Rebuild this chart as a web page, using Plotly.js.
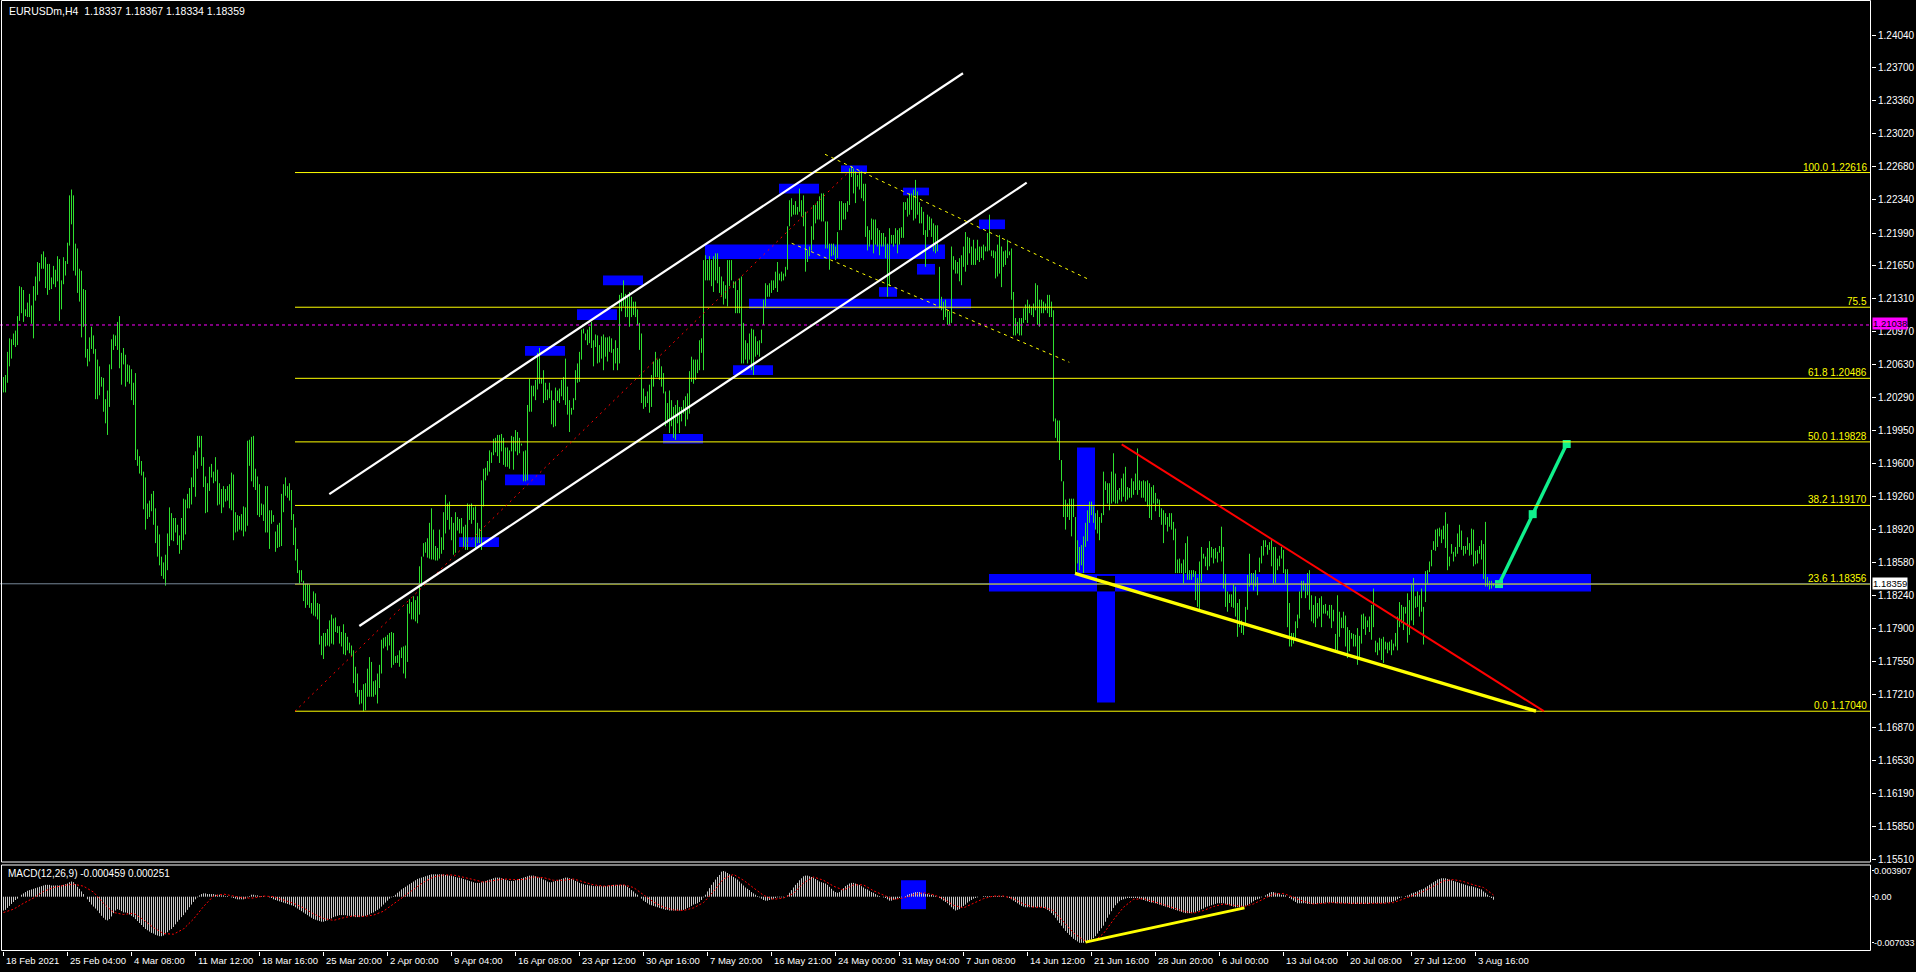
<!DOCTYPE html>
<html>
<head>
<meta charset="utf-8">
<script src="https://cdn.plot.ly/plotly-3.0.1.min.js"></script>
<style>
html,body{margin:0;padding:0;background:#000;overflow:hidden}
#chart{width:1916px;height:972px}
</style>
</head>
<body>
<div id="chart"></div>
<script>
// ---- EURUSDm H4 quotes (bar 0 = 18 Feb 2021 00:00) ----
const symbolName = 'EURUSDm,H4';
const lastQuote = [1.18337, 1.18367, 1.18334, 1.18359]; // open, high, low, close of the live bar

const barHigh = [
1.2050,1.2052,1.2076,1.2090,1.2089,1.2095,1.2098,1.2113,1.2144,1.2143,
1.2140,1.2120,1.2127,1.2136,1.2124,1.2144,1.2154,1.2169,1.2168,1.2177,
1.2180,1.2174,1.2167,1.2167,1.2153,1.2165,1.2161,1.2175,1.2172,1.2150,
1.2174,1.2170,1.2189,1.2238,1.2244,1.2238,1.2188,1.2183,1.2162,1.2160,
1.2141,1.2140,1.2079,1.2091,1.2102,1.2093,1.2079,1.2068,1.2061,1.2050,
1.2049,1.2027,1.2036,1.2063,1.2089,1.2094,1.2093,1.2107,1.2113,1.2075,
1.2080,1.2073,1.2063,1.2062,1.2058,1.2044,1.2054,1.1975,1.1968,1.1963,
1.1952,1.1946,1.1919,1.1922,1.1929,1.1932,1.1914,1.1896,1.1887,1.1864,
1.1858,1.1866,1.1888,1.1915,1.1909,1.1904,1.1904,1.1897,1.1886,1.1904,
1.1924,1.1923,1.1929,1.1935,1.1946,1.1969,1.1973,1.1989,1.1989,1.1989,
1.1967,1.1947,1.1940,1.1957,1.1960,1.1952,1.1967,1.1954,1.1940,1.1934,
1.1937,1.1934,1.1937,1.1939,1.1951,1.1949,1.1910,1.1907,1.1906,1.1908,
1.1916,1.1915,1.1984,1.1985,1.1988,1.1989,1.1955,1.1947,1.1939,1.1919,
1.1918,1.1937,1.1937,1.1912,1.1912,1.1907,1.1890,1.1897,1.1899,1.1929,
1.1939,1.1946,1.1937,1.1940,1.1933,1.1908,1.1894,1.1872,1.1850,1.1850,
1.1839,1.1836,1.1836,1.1835,1.1816,1.1828,1.1826,1.1816,1.1815,1.1782,
1.1785,1.1785,1.1789,1.1798,1.1804,1.1800,1.1801,1.1792,1.1792,1.1786,
1.1794,1.1785,1.1781,1.1775,1.1772,1.1767,1.1750,1.1743,1.1726,1.1726,
1.1732,1.1733,1.1748,1.1760,1.1755,1.1735,1.1736,1.1743,1.1752,1.1778,
1.1780,1.1781,1.1783,1.1785,1.1786,1.1785,1.1761,1.1762,1.1767,1.1770,
1.1771,1.1772,1.1815,1.1820,1.1817,1.1823,1.1819,1.1823,1.1854,1.1864,
1.1878,1.1879,1.1883,1.1899,1.1914,1.1892,1.1875,1.1873,1.1892,1.1884,
1.1910,1.1928,1.1919,1.1921,1.1905,1.1899,1.1910,1.1905,1.1903,1.1904,
1.1895,1.1897,1.1919,1.1918,1.1919,1.1915,1.1916,1.1899,1.1893,1.1943,
1.1955,1.1956,1.1963,1.1974,1.1972,1.1986,1.1987,1.1990,1.1990,1.1991,
1.1987,1.1977,1.1977,1.1974,1.1989,1.1988,1.1995,1.1993,1.1987,1.1981,
1.1973,1.1974,1.2021,1.2048,1.2041,1.2041,1.2047,1.2075,1.2080,1.2049,
1.2057,1.2044,1.2037,1.2044,1.2036,1.2026,1.2039,1.2036,1.2038,1.2047,
1.2050,1.2069,1.2040,1.2026,1.2018,1.2028,1.2057,1.2064,1.2076,1.2099,
1.2100,1.2095,1.2099,1.2102,1.2107,1.2088,1.2094,1.2093,1.2083,1.2092,
1.2094,1.2091,1.2091,1.2092,1.2090,1.2079,1.2088,1.2080,1.2135,1.2137,
1.2150,1.2136,1.2133,1.2138,1.2133,1.2128,1.2128,1.2120,1.2106,1.2095,
1.2038,1.2030,1.2035,1.2042,1.2052,1.2066,1.2076,1.2068,1.2069,1.2061,
1.2054,1.2035,1.2023,1.2036,1.2026,1.2019,1.2021,1.2026,1.2019,1.2019,
1.2026,1.2030,1.2033,1.2056,1.2071,1.2068,1.2068,1.2068,1.2088,1.2090,
1.2171,1.2176,1.2171,1.2175,1.2171,1.2175,1.2178,1.2178,1.2164,1.2154,
1.2149,1.2145,1.2171,1.2171,1.2171,1.2149,1.2149,1.2140,1.2152,1.2154,
1.2106,1.2088,1.2085,1.2095,1.2100,1.2099,1.2092,1.2087,1.2088,1.2099,
1.2130,1.2147,1.2145,1.2147,1.2150,1.2150,1.2159,1.2169,1.2157,1.2159,
1.2157,1.2164,1.2206,1.2233,1.2235,1.2228,1.2232,1.2226,1.2245,1.2233,
1.2238,1.2221,1.2181,1.2185,1.2206,1.2228,1.2228,1.2232,1.2237,1.2240,
1.2240,1.2211,1.2211,1.2188,1.2188,1.2188,1.2185,1.2200,1.2232,1.2232,
1.2230,1.2230,1.2232,1.2266,1.2268,1.2266,1.2263,1.2259,1.2263,1.2263,
1.2250,1.2250,1.2206,1.2202,1.2214,1.2213,1.2213,1.2204,1.2202,1.2199,
1.2199,1.2195,1.2188,1.2204,1.2197,1.2197,1.2204,1.2202,1.2204,1.2205,
1.2231,1.2231,1.2235,1.2240,1.2240,1.2244,1.2254,1.2242,1.2231,1.2226,
1.2221,1.2202,1.2218,1.2216,1.2214,1.2209,1.2207,1.2207,1.2164,1.2133,
1.2128,1.2130,1.2119,1.2118,1.2185,1.2175,1.2171,1.2169,1.2173,1.2176,
1.2185,1.2200,1.2195,1.2194,1.2185,1.2192,1.2183,1.2192,1.2185,1.2185,
1.2187,1.2185,1.2199,1.2218,1.2181,1.2181,1.2180,1.2187,1.2197,1.2185,
1.2180,1.2181,1.2192,1.2180,1.2183,1.2138,1.2111,1.2107,1.2111,1.2111,
1.2121,1.2125,1.2130,1.2125,1.2123,1.2126,1.2147,1.2145,1.2130,1.2130,
1.2128,1.2126,1.2135,1.2135,1.2128,1.2119,1.2007,1.2005,1.2005,1.1964,
1.1942,1.1923,1.1919,1.1924,1.1924,1.1924,1.1905,1.1881,1.1874,1.1876,
1.1885,1.1899,1.1912,1.1921,1.1921,1.1916,1.1909,1.1912,1.1905,1.1909,
1.1952,1.1942,1.1940,1.1940,1.1952,1.1971,1.1950,1.1933,1.1935,1.1945,
1.1950,1.1957,1.1936,1.1935,1.1945,1.1942,1.1950,1.1976,1.1943,1.1942,
1.1943,1.1942,1.1943,1.1940,1.1936,1.1938,1.1930,1.1924,1.1923,1.1914,
1.1912,1.1909,1.1905,1.1909,1.1909,1.1900,1.1893,1.1861,1.1862,1.1857,
1.1861,1.1878,1.1885,1.1850,1.1850,1.1850,1.1849,1.1842,1.1859,1.1874,
1.1867,1.1864,1.1873,1.1880,1.1874,1.1872,1.1873,1.1869,1.1875,1.1895,
1.1874,1.1846,1.1828,1.1825,1.1825,1.1835,1.1833,1.1816,1.1820,1.1798,
1.1795,1.1812,1.1845,1.1867,1.1847,1.1847,1.1850,1.1843,1.1863,1.1875,
1.1881,1.1881,1.1876,1.1879,1.1881,1.1874,1.1874,1.1862,1.1865,1.1874,
1.1871,1.1851,1.1851,1.1816,1.1785,1.1785,1.1797,1.1804,1.1828,1.1839,
1.1839,1.1836,1.1847,1.1850,1.1824,1.1814,1.1823,1.1816,1.1821,1.1823,
1.1814,1.1815,1.1808,1.1814,1.1814,1.1809,1.1784,1.1824,1.1807,1.1801,
1.1807,1.1803,1.1791,1.1788,1.1785,1.1784,1.1783,1.1790,1.1782,1.1804,
1.1805,1.1802,1.1798,1.1802,1.1814,1.1831,1.1777,1.1775,1.1780,1.1779,
1.1781,1.1776,1.1775,1.1776,1.1778,1.1774,1.1785,1.1802,1.1817,1.1814,
1.1812,1.1812,1.1826,1.1819,1.1835,1.1842,1.1823,1.1828,1.1824,1.1831,
1.1812,1.1849,1.1850,1.1859,1.1871,1.1880,1.1892,1.1893,1.1894,1.1892,
1.1896,1.1910,1.1898,1.1864,1.1877,1.1869,1.1874,1.1888,1.1897,1.1891,
1.1875,1.1875,1.1884,1.1878,1.1893,1.1892,1.1870,1.1871,1.1875,1.1881,
1.1877,1.1900,1.1843,1.1839,1.1839,1.18367
];

const barLow = [
1.2034,1.2034,1.2044,1.2061,1.2069,1.2083,1.2081,1.2083,1.2108,1.2116,
1.2107,1.2113,1.2112,1.2112,1.2105,1.2090,1.2129,1.2135,1.2149,1.2162,
1.2162,1.2142,1.2135,1.2140,1.2141,1.2146,1.2143,1.2149,1.2108,1.2120,
1.2146,1.2155,1.2167,1.2186,1.2208,1.2160,1.2155,1.2137,1.2128,1.2091,
1.2102,1.2070,1.2061,1.2066,1.2079,1.2074,1.2027,1.2027,1.2031,1.2040,
1.2014,1.2002,1.1990,1.2019,1.2058,1.2078,1.2082,1.2078,1.2059,1.2042,
1.2063,1.2040,1.2045,1.2043,1.2026,1.2021,1.1964,1.1958,1.1950,1.1948,
1.1913,1.1892,1.1903,1.1905,1.1911,1.1897,1.1878,1.1864,1.1855,1.1844,
1.1841,1.1834,1.1850,1.1875,1.1881,1.1880,1.1889,1.1876,1.1867,1.1871,
1.1881,1.1887,1.1914,1.1914,1.1918,1.1936,1.1926,1.1955,1.1977,1.1958,
1.1936,1.1909,1.1910,1.1932,1.1946,1.1940,1.1942,1.1917,1.1918,1.1909,
1.1915,1.1921,1.1922,1.1914,1.1912,1.1881,1.1889,1.1890,1.1892,1.1891,
1.1885,1.1890,1.1896,1.1958,1.1942,1.1936,1.1933,1.1907,1.1905,1.1907,
1.1901,1.1889,1.1889,1.1872,1.1898,1.1900,1.1869,1.1873,1.1874,1.1875,
1.1910,1.1927,1.1925,1.1922,1.1902,1.1876,1.1860,1.1847,1.1836,1.1838,
1.1818,1.1811,1.1814,1.1811,1.1805,1.1803,1.1802,1.1799,1.1773,1.1762,
1.1758,1.1771,1.1772,1.1771,1.1774,1.1773,1.1786,1.1785,1.1774,1.1771,
1.1763,1.1762,1.1767,1.1764,1.1761,1.1733,1.1723,1.1719,1.1711,1.1712,
1.1704,1.1705,1.1719,1.1719,1.1719,1.1719,1.1721,1.1712,1.1728,1.1743,
1.1769,1.1771,1.1767,1.1772,1.1749,1.1752,1.1754,1.1754,1.1750,1.1759,
1.1743,1.1738,1.1755,1.1805,1.1799,1.1799,1.1797,1.1795,1.1804,1.1833,
1.1864,1.1868,1.1863,1.1862,1.1861,1.1861,1.1860,1.1860,1.1862,1.1867,
1.1871,1.1888,1.1902,1.1892,1.1881,1.1866,1.1868,1.1891,1.1888,1.1888,
1.1874,1.1871,1.1871,1.1902,1.1898,1.1902,1.1871,1.1878,1.1878,1.1871,
1.1916,1.1943,1.1948,1.1952,1.1961,1.1969,1.1972,1.1968,1.1961,1.1973,
1.1959,1.1957,1.1957,1.1955,1.1973,1.1954,1.1973,1.1969,1.1971,1.1979,
1.1942,1.1942,1.1943,1.2014,1.2014,1.2030,1.2026,1.2037,1.2043,1.2043,
1.2023,1.2026,1.2026,1.2028,1.2001,1.1998,1.1999,1.2025,1.2023,1.2030,
1.2026,1.2021,1.2011,1.1993,1.2011,1.2016,1.2026,1.2044,1.2045,1.2068,
1.2095,1.2088,1.2083,1.2085,1.2080,1.2061,1.2081,1.2064,1.2065,1.2069,
1.2057,1.2071,1.2066,1.2076,1.2075,1.2057,1.2064,1.2057,1.2064,1.2118,
1.2123,1.2112,1.2112,1.2102,1.2112,1.2114,1.2112,1.2104,1.2078,1.2023,
1.2017,1.2019,1.2023,1.2013,1.2019,1.2040,1.2050,1.2050,1.2047,1.2040,
1.2033,1.1999,1.2002,1.1992,1.1999,1.1987,1.1985,1.2002,1.1992,1.2004,
1.2012,1.1999,1.2006,1.2012,1.2045,1.2043,1.2047,1.2054,1.2057,1.2075,
1.2057,1.2150,1.2150,1.2150,1.2144,1.2138,1.2150,1.2147,1.2137,1.2133,
1.2125,1.2131,1.2123,1.2144,1.2150,1.2142,1.2116,1.2116,1.2116,1.2064,
1.2064,1.2068,1.2064,1.2068,1.2057,1.2052,1.2071,1.2073,1.2071,1.2085,
1.2104,1.2123,1.2133,1.2133,1.2137,1.2140,1.2142,1.2138,1.2150,1.2149,
1.2150,1.2154,1.2161,1.2206,1.2216,1.2218,1.2218,1.2218,1.2221,1.2216,
1.2206,1.2159,1.2169,1.2175,1.2181,1.2192,1.2209,1.2213,1.2213,1.2211,
1.2211,1.2183,1.2183,1.2161,1.2175,1.2176,1.2171,1.2173,1.2202,1.2202,
1.2213,1.2213,1.2221,1.2228,1.2257,1.2240,1.2230,1.2247,1.2244,1.2235,
1.2232,1.2195,1.2181,1.2185,1.2192,1.2178,1.2187,1.2185,1.2176,1.2185,
1.2185,1.2173,1.2133,1.2144,1.2188,1.2185,1.2188,1.2178,1.2187,1.2194,
1.2194,1.2223,1.2216,1.2218,1.2223,1.2212,1.2214,1.2218,1.2209,1.2209,
1.2197,1.2164,1.2195,1.2202,1.2195,1.2180,1.2178,1.2180,1.2121,1.2119,
1.2109,1.2112,1.2104,1.2104,1.2106,1.2161,1.2157,1.2157,1.2149,1.2145,
1.2164,1.2159,1.2166,1.2178,1.2166,1.2166,1.2166,1.2171,1.2169,1.2173,
1.2171,1.2180,1.2180,1.2181,1.2175,1.2173,1.2152,1.2154,1.2157,1.2143,
1.2164,1.2166,1.2173,1.2176,1.2130,1.2093,1.2093,1.2095,1.2093,1.2093,
1.2106,1.2109,1.2106,1.2116,1.2114,1.2112,1.2119,1.2104,1.2102,1.2116,
1.2116,1.2119,1.2116,1.2112,1.2112,1.2004,1.1987,1.1983,1.1964,1.1942,
1.1905,1.1892,1.1905,1.1902,1.1885,1.1905,1.1847,1.1857,1.1850,1.1855,
1.1847,1.1874,1.1880,1.1899,1.1907,1.1899,1.1892,1.1888,1.1881,1.1899,
1.1907,1.1933,1.1919,1.1912,1.1919,1.1921,1.1919,1.1919,1.1923,1.1921,
1.1926,1.1921,1.1923,1.1925,1.1925,1.1928,1.1933,1.1928,1.1933,1.1925,
1.1925,1.1921,1.1916,1.1904,1.1902,1.1919,1.1911,1.1919,1.1905,1.1897,
1.1878,1.1897,1.1890,1.1895,1.1892,1.1881,1.1847,1.1847,1.1847,1.1847,
1.1836,1.1847,1.1840,1.1840,1.1840,1.1843,1.1819,1.1812,1.1807,1.1838,
1.1862,1.1854,1.1850,1.1854,1.1863,1.1857,1.1862,1.1858,1.1868,1.1859,
1.1831,1.1812,1.1807,1.1816,1.1812,1.1811,1.1802,1.1781,1.1791,1.1785,
1.1783,1.1792,1.1809,1.1833,1.1835,1.1829,1.1833,1.1824,1.1848,1.1857,
1.1865,1.1874,1.1866,1.1871,1.1854,1.1836,1.1837,1.1850,1.1854,1.1862,
1.1847,1.1836,1.1791,1.1771,1.1771,1.1774,1.1778,1.1790,1.1800,1.1821,
1.1829,1.1821,1.1824,1.1809,1.1797,1.1795,1.1791,1.1800,1.1802,1.1791,
1.1805,1.1805,1.1803,1.1800,1.1790,1.1797,1.1766,1.1767,1.1781,1.1790,
1.1790,1.1771,1.1759,1.1766,1.1779,1.1771,1.1771,1.1752,1.1759,1.1774,
1.1789,1.1783,1.1791,1.1786,1.1778,1.1791,1.1765,1.1762,1.1767,1.1757,
1.1754,1.1768,1.1764,1.1767,1.1762,1.1767,1.1771,1.1767,1.1791,1.1795,
1.1788,1.1805,1.1775,1.1783,1.1798,1.1793,1.1811,1.1812,1.1802,1.1807,
1.1773,1.1817,1.1836,1.1848,1.1854,1.1871,1.1870,1.1874,1.1885,1.1878,
1.1882,1.1873,1.1850,1.1854,1.1867,1.1859,1.1864,1.1867,1.1874,1.1871,
1.1865,1.1867,1.1871,1.1865,1.1866,1.1854,1.1856,1.1857,1.1867,1.1861,
1.1841,1.1833,1.1833,1.1830,1.1831,1.18334
];

// ---- MACD(12,26,9): main line (histogram) per bar, signal every 5th bar ----
const macdMain = [
-0.0021,-0.0020,-0.0017,-0.0014,-0.0011,-0.0008,-0.0005,-0.0003,0,0.0003,
0.0005,0.0007,0.0009,0.0010,0.0011,0.0012,0.0013,0.0014,0.0015,0.0016,
0.0017,0.0018,0.0018,0.0018,0.0017,0.0017,0.0017,0.0017,0.0017,0.0017,
0.0018,0.0019,0.0020,0.0022,0.0023,0.0022,0.0019,0.0015,0.0012,0.0008,
0.0004,0,-0.0004,-0.0008,-0.0012,-0.0015,-0.0018,-0.0021,-0.0025,-0.0029,
-0.0032,-0.0035,-0.0036,-0.0034,-0.0030,-0.0025,-0.0021,-0.0019,-0.0020,-0.0022,
-0.0024,-0.0024,-0.0025,-0.0027,-0.0029,-0.0031,-0.0034,-0.0037,-0.0040,-0.0043,
-0.0046,-0.0049,-0.0051,-0.0053,-0.0055,-0.0056,-0.0058,-0.0059,-0.0060,-0.0060,
-0.0059,-0.0057,-0.0054,-0.0051,-0.0049,-0.0046,-0.0042,-0.0038,-0.0035,-0.0031,
-0.0028,-0.0024,-0.0020,-0.0016,-0.0012,-0.0008,-0.0004,-0.0001,0.0002,0.0004,
0.0005,0.0005,0.0004,0.0004,0.0004,0.0004,0.0003,0.0003,0.0003,0.0002,
0.0002,0.0001,0.0001,0,-0.0001,-0.0002,-0.0003,-0.0004,-0.0004,-0.0004,
-0.0004,-0.0003,-0.0001,0.0001,0.0003,0.0003,0.0002,0.0002,0.0001,0.0001,
0.0001,0,0,-0.0001,-0.0002,-0.0004,-0.0005,-0.0006,-0.0007,-0.0008,
-0.0009,-0.0010,-0.0011,-0.0012,-0.0013,-0.0014,-0.0016,-0.0018,-0.0020,-0.0022,
-0.0024,-0.0026,-0.0028,-0.0030,-0.0032,-0.0034,-0.0035,-0.0036,-0.0037,-0.0038,
-0.0038,-0.0037,-0.0036,-0.0034,-0.0033,-0.0031,-0.0030,-0.0029,-0.0028,-0.0028,
-0.0028,-0.0028,-0.0029,-0.0029,-0.0030,-0.0030,-0.0031,-0.0031,-0.0031,-0.0030,
-0.0030,-0.0029,-0.0028,-0.0027,-0.0025,-0.0024,-0.0022,-0.0020,-0.0018,-0.0015,
-0.0012,-0.0009,-0.0006,-0.0003,-0.0001,0.0001,0.0003,0.0006,0.0008,0.0011,
0.0013,0.0015,0.0017,0.0019,0.0021,0.0023,0.0025,0.0027,0.0028,0.0029,
0.0030,0.0031,0.0032,0.0033,0.0034,0.0034,0.0034,0.0034,0.0034,0.0034,
0.0034,0.0033,0.0033,0.0032,0.0032,0.0031,0.0030,0.0029,0.0029,0.0028,
0.0027,0.0026,0.0025,0.0024,0.0023,0.0022,0.0021,0.0021,0.0021,0.0022,
0.0023,0.0024,0.0025,0.0026,0.0027,0.0028,0.0029,0.0029,0.0029,0.0028,
0.0027,0.0026,0.0025,0.0024,0.0024,0.0024,0.0025,0.0026,0.0027,0.0028,
0.0029,0.0030,0.0031,0.0032,0.0032,0.0032,0.0031,0.0030,0.0029,0.0028,
0.0026,0.0025,0.0023,0.0022,0.0022,0.0023,0.0024,0.0025,0.0026,0.0027,
0.0028,0.0029,0.0029,0.0028,0.0027,0.0026,0.0024,0.0023,0.0021,0.0020,
0.0019,0.0018,0.0018,0.0017,0.0017,0.0016,0.0016,0.0016,0.0016,0.0016,
0.0016,0.0016,0.0016,0.0017,0.0017,0.0018,0.0018,0.0018,0.0018,0.0018,
0.0018,0.0017,0.0015,0.0013,0.0010,0.0008,0.0005,0.0003,0,-0.0003,
-0.0006,-0.0008,-0.0010,-0.0012,-0.0013,-0.0014,-0.0015,-0.0016,-0.0017,-0.0018,
-0.0019,-0.0020,-0.0020,-0.0021,-0.0021,-0.0021,-0.0021,-0.0021,-0.0021,-0.0021,
-0.0020,-0.0019,-0.0017,-0.0016,-0.0014,-0.0012,-0.0011,-0.0010,-0.0008,-0.0005,
-0.0001,0.0003,0.0008,0.0013,0.0018,0.0022,0.0026,0.0030,0.0033,0.0038,
0.0039,0.0038,0.0036,0.0034,0.0032,0.0030,0.0028,0.0026,0.0023,0.0020,
0.0017,0.0014,0.0012,0.0010,0.0007,0.0005,0.0003,0.0001,-0.0001,-0.0003,
-0.0005,-0.0006,-0.0006,-0.0005,-0.0004,-0.0003,-0.0002,-0.0001,-0.0001,-0.0001,
-0.0001,0,0.0002,0.0006,0.0010,0.0014,0.0018,0.0021,0.0025,0.0028,
0.0031,0.0032,0.0032,0.0031,0.0030,0.0029,0.0027,0.0025,0.0023,0.0022,
0.0021,0.0020,0.0018,0.0015,0.0012,0.0009,0.0007,0.0006,0.0007,0.0010,
0.0013,0.0016,0.0018,0.0020,0.0021,0.0021,0.0020,0.0019,0.0018,0.0016,
0.0014,0.0012,0.0011,0.0009,0.0007,0.0006,0.0004,0.0002,0.0001,0,
-0.0001,-0.0002,-0.0004,-0.0006,-0.0006,-0.0005,-0.0004,-0.0003,-0.0002,-0.0001,
0,0.0001,0.0003,0.0004,0.0005,0.0006,0.0007,0.0007,0.0007,0.0006,
0.0005,0.0004,0.0004,0.0003,0.0003,0.0002,0.0001,0,-0.0002,-0.0004,
-0.0006,-0.0008,-0.0010,-0.0013,-0.0016,-0.0019,-0.0021,-0.0020,-0.0019,-0.0017,
-0.0014,-0.0012,-0.0009,-0.0007,-0.0005,-0.0003,-0.0002,-0.0001,0,0,
0.0001,0.0001,0.0001,0.0001,0.0001,0.0001,0.0001,0.0001,0.0001,0.0001,
0.0001,0,-0.0001,-0.0002,-0.0004,-0.0006,-0.0008,-0.0010,-0.0012,-0.0014,
-0.0015,-0.0016,-0.0016,-0.0016,-0.0016,-0.0016,-0.0016,-0.0016,-0.0016,-0.0016,
-0.0017,-0.0018,-0.0020,-0.0022,-0.0025,-0.0028,-0.0032,-0.0036,-0.0040,-0.0044,
-0.0048,-0.0052,-0.0055,-0.0058,-0.0061,-0.0064,-0.0066,-0.0068,-0.0070,-0.0070,
-0.0070,-0.0069,-0.0068,-0.0067,-0.0065,-0.0063,-0.0060,-0.0056,-0.0052,-0.0048,
-0.0044,-0.0038,-0.0032,-0.0027,-0.0022,-0.0017,-0.0013,-0.0010,-0.0007,-0.0005,
-0.0004,-0.0003,-0.0002,-0.0002,-0.0002,-0.0002,-0.0002,-0.0002,-0.0003,-0.0004,
-0.0005,-0.0006,-0.0007,-0.0008,-0.0009,-0.0009,-0.0010,-0.0011,-0.0012,-0.0013,
-0.0014,-0.0015,-0.0016,-0.0017,-0.0018,-0.0019,-0.0020,-0.0021,-0.0022,-0.0023,
-0.0024,-0.0025,-0.0025,-0.0025,-0.0025,-0.0024,-0.0023,-0.0022,-0.0021,-0.0019,
-0.0018,-0.0016,-0.0015,-0.0014,-0.0013,-0.0012,-0.0011,-0.0010,-0.0010,-0.0010,
-0.0010,-0.0011,-0.0012,-0.0013,-0.0014,-0.0015,-0.0016,-0.0016,-0.0016,-0.0016,
-0.0015,-0.0014,-0.0013,-0.0011,-0.0009,-0.0007,-0.0005,-0.0004,-0.0003,-0.0001,
0,0.0002,0.0004,0.0006,0.0007,0.0007,0.0006,0.0005,0.0004,0.0003,
0.0003,0.0002,0,-0.0002,-0.0004,-0.0006,-0.0008,-0.0010,-0.0010,-0.0010,
-0.0010,-0.0010,-0.0011,-0.0011,-0.0011,-0.0011,-0.0011,-0.0011,-0.0010,-0.0010,
-0.0010,-0.0009,-0.0009,-0.0009,-0.0009,-0.0009,-0.0010,-0.0010,-0.0010,-0.0010,
-0.0010,-0.0010,-0.0010,-0.0011,-0.0011,-0.0011,-0.0011,-0.0011,-0.0011,-0.0011,
-0.0011,-0.0011,-0.0011,-0.0011,-0.0010,-0.0010,-0.0010,-0.0010,-0.0010,-0.0010,
-0.0010,-0.0009,-0.0009,-0.0009,-0.0008,-0.0007,-0.0006,-0.0004,-0.0002,-0.0001,
0,0.0001,0.0002,0.0003,0.0005,0.0006,0.0007,0.0008,0.0010,0.0011,
0.0012,0.0014,0.0016,0.0018,0.0020,0.0022,0.0024,0.0026,0.0027,0.0028,
0.0028,0.0028,0.0027,0.0026,0.0025,0.0024,0.0023,0.0022,0.0021,0.0020,
0.0019,0.0018,0.0017,0.0016,0.0016,0.0015,0.0014,0.0013,0.0012,0.0011,
0.0008,0.0006,0.0003,0.0001,-0.0002,-0.000459
];

const signalStep = 5;
const macdSignal = [
-0.0024,-0.0019,-0.0010,-0.0002,0.0008,0.0014,0.0017,0.0019,0.0016,0.0007,
-0.0010,-0.0024,-0.0027,-0.0025,-0.0035,-0.0047,-0.0056,-0.0057,-0.0049,-0.0034,
-0.0015,0.0001,0.0004,0.0001,-0.0002,-0.0002,0.0001,0,-0.0005,-0.0010,
-0.0017,-0.0026,-0.0033,-0.0036,-0.0032,-0.0029,-0.0030,-0.0028,-0.0022,-0.0011,
0.0001,0.0012,0.0022,0.0030,0.0033,0.0033,0.0030,0.0026,0.0022,0.0024,
0.0027,0.0026,0.0026,0.0030,0.0029,0.0025,0.0025,0.0027,0.0022,0.0018,
0.0016,0.0017,0.0018,0.0014,0.0003,-0.0008,-0.0016,-0.0020,-0.0021,-0.0017,
-0.0009,0.0008,0.0027,0.0034,0.0025,0.0013,0.0002,-0.0004,-0.0002,0.0005,
0.0021,0.0030,0.0025,0.0016,0.0010,0.0018,0.0018,0.0009,0.0002,-0.0004,
-0.0002,0.0003,0.0006,0.0003,-0.0003,-0.0013,-0.0017,-0.0010,-0.0003,0.0001,
0.0001,-0.0003,-0.0011,-0.0016,-0.0016,-0.0021,-0.0038,-0.0055,-0.0066,-0.0068,
-0.0056,-0.0035,-0.0016,-0.0004,-0.0003,-0.0007,-0.0012,-0.0017,-0.0022,-0.0025,
-0.0021,-0.0015,-0.0011,-0.0013,-0.0015,-0.0011,-0.0004,0.0004,0.0005,-0.0001,
-0.0007,-0.0011,-0.0010,-0.0009,-0.0010,-0.0010,-0.0011,-0.0011,-0.0010,-0.0009,
-0.0004,0.0002,0.0008,0.0016,0.0024,0.0026,0.0023,0.0018,0.0014,0.000251
];
const macdLast = [-0.000459, 0.000251];

// ---- axes ----
const dateLabelStep = 32;
const dateLabels = ['18 Feb 2021','25 Feb 04:00','4 Mar 08:00','11 Mar 12:00','18 Mar 16:00',
  '25 Mar 20:00','2 Apr 00:00','9 Apr 04:00','16 Apr 08:00','23 Apr 12:00','30 Apr 16:00',
  '7 May 20:00','16 May 21:00','24 May 00:00','31 May 04:00','7 Jun 08:00','14 Jun 12:00',
  '21 Jun 16:00','28 Jun 20:00','6 Jul 00:00','13 Jul 04:00','20 Jul 08:00','27 Jul 12:00','3 Aug 16:00'];
const priceTicks = [1.24040,1.23700,1.23360,1.23020,1.22680,1.22340,1.21990,1.21650,1.21310,
  1.20970,1.20630,1.20290,1.19950,1.19600,1.19260,1.18920,1.18580,1.18240,1.17900,1.17550,
  1.17210,1.16870,1.16530,1.16190,1.15850,1.15510];
const macdTicks = [0.003907, 0, -0.007033];
const macdTickText = ['0.003907', '0.00', '-0.007033'];

// ---- Fibonacci retracement ----
const fibLevels = ['100.0','75.5','61.8','50.0','38.2','23.6','0.0'];
const fibPrices = [1.22616, 1.21222, 1.20486, 1.19828, 1.19170, 1.18356, 1.17040];
const fibShowPrice = [true, false, true, true, true, true, true];
const fibStartBar = 145.75;
const fibAnchor = [[145.75, 1.17040], [422.25, 1.22616]];

// ---- drawn objects (bar index, price) ----
const markedLevel = 1.21038;
const channelUpper = [[162.9, 1.19288], [479.75, 1.23644]];
const channelLower = [[177.9, 1.17922], [511.6, 1.22511]];
const flagUpper = [[410.75, 1.22805], [543.25, 1.21504]];
const flagLower = [[394.1, 1.21884], [532.9, 1.20652]];
const wedgeTop = [[559.1, 1.19803], [770.15, 1.17040]];
const wedgeBottom = [[535.75, 1.18467], [766.25, 1.17040]];
const projectionBars = [747.75, 764.6, 781.6];
const projectionPrices = [1.18356, 1.19080, 1.19806];
// supply / demand zones: [fromBar, toBar, lowPrice, highPrice]
const zones = [
  [227.75, 247.75, 1.1874, 1.1884],
  [250.75, 270.75, 1.1938, 1.1949],
  [260.75, 280.75, 1.2072, 1.2082],
  [286.75, 306.75, 1.2109, 1.2120],
  [299.75, 319.75, 1.2145, 1.2155],
  [329.75, 349.75, 1.1981, 1.1991],
  [350.75, 470.75, 1.2172, 1.2187],
  [364.75, 384.75, 1.2052, 1.2062],
  [372.75, 483.75, 1.2121, 1.2131],
  [387.75, 407.75, 1.2240, 1.2250],
  [418.75, 431.75, 1.2261, 1.2269],
  [437.75, 446.75, 1.2133, 1.2143],
  [449.75, 462.75, 1.2238, 1.2246],
  [456.75, 465.75, 1.2156, 1.2167],
  [487.75, 500.75, 1.2203, 1.2213],
  [536.75, 545.75, 1.1847, 1.1977],
  [492.75, 793.75, 1.1828, 1.1846],
  [546.75, 555.75, 1.1713, 1.1844]
];
const zoneOverlap = [546.75, 555.75, 1.1828, 1.1844];
const macdZone = [448.75, 461.25, -0.0019, 0.0025];
const macdDivergence = [[541, -0.0069], [620.5, -0.0017]];

// ---- build traces ----
const candleX = [], candleY = [];
barHigh.forEach((h, i) => { candleX.push(i, i, null); candleY.push(barLow[i], h, null); });
const histX = [], histY = [];
macdMain.forEach((v, i) => { histX.push(i, i, null); histY.push(0, v, null); });
const signalX = macdSignal.map((_, k) => k * signalStep);

const traces = [
  {type:'scatter', mode:'lines', x:candleX, y:candleY, xaxis:'x', yaxis:'y',
   line:{color:'#2fe02f', width:1}, hoverinfo:'skip', connectgaps:false},
  {type:'scatter', mode:'lines+markers', x:projectionBars, y:projectionPrices, xaxis:'x', yaxis:'y',
   line:{color:'#10f08c', width:3.4}, marker:{symbol:'square', size:8, color:'#10f08c'}, hoverinfo:'skip'},
  {type:'scatter', mode:'lines', x:histX, y:histY, xaxis:'x', yaxis:'y2',
   line:{color:'#c8c8c8', width:1}, hoverinfo:'skip', connectgaps:false},
  {type:'scatter', mode:'lines', x:signalX, y:macdSignal, xaxis:'x', yaxis:'y2',
   line:{color:'#ff0000', width:1, dash:'2px,2px'}, hoverinfo:'skip'}
];

// ---- geometry of the two panes (pixels of a 1871 x 951 plot area) ----
const plotW = 1871, plotH = 951;
const mainBottomPx = 862, macdTopPx = 865;
const py = p => (plotH - p) / plotH;
const xRange = [-1.75, (plotW / 2) - 1.75];
const xEnd = xRange[1];

const shapes = [];
const seg = (pts, color, width, dash, yref) => ({type:'line', xref:'x', yref:yref || 'y', layer:'above',
  x0:pts[0][0], y0:pts[0][1], x1:pts[1][0], y1:pts[1][1], line:{color, width, dash:dash || 'solid'}});

zones.forEach(z => shapes.push({type:'rect', xref:'x', yref:'y', layer:'below',
  x0:z[0], x1:z[1], y0:z[2], y1:z[3], fillcolor:'#0000ff', line:{width:0}}));
shapes.push({type:'rect', xref:'x', yref:'y', layer:'below', x0:zoneOverlap[0], x1:zoneOverlap[1],
  y0:zoneOverlap[2], y1:zoneOverlap[3], fillcolor:'#000000', line:{width:0}});
shapes.push({type:'rect', xref:'x', yref:'y2', layer:'below', x0:macdZone[0], x1:macdZone[1],
  y0:macdZone[2], y1:macdZone[3], fillcolor:'#0000ff', line:{width:0}});

fibPrices.forEach(p => shapes.push(seg([[fibStartBar, p], [xEnd, p]], '#ffff00', 1)));
shapes.push({type:'line', xref:'paper', yref:'y', layer:'above', x0:0, x1:1, y0:markedLevel, y1:markedLevel,
  line:{color:'#ff00ff', width:1, dash:'3px,3px'}});
shapes.push({type:'line', xref:'paper', yref:'y', layer:'above', x0:0, x1:1, y0:lastQuote[3], y1:lastQuote[3],
  line:{color:'#778899', width:1}});
shapes.push(seg(fibAnchor, '#ff0000', 1, '2px,4px'));
shapes.push(seg(channelUpper, '#ffffff', 2.2));
shapes.push(seg(channelLower, '#ffffff', 2.2));
shapes.push(seg(flagUpper, '#ffff00', 1, '3px,4px'));
shapes.push(seg(flagLower, '#ffff00', 1, '3px,4px'));
shapes.push(seg(wedgeTop, '#ff0000', 2));
shapes.push(seg(wedgeBottom, '#ffff00', 3.4));
shapes.push(seg(macdDivergence, '#ffff00', 3, null, 'y2'));

// window frames
shapes.push({type:'rect', xref:'paper', yref:'paper', layer:'above', x0:1.5/plotW, x1:(plotW-0.5)/plotW,
  y0:py(mainBottomPx), y1:py(0.5), line:{color:'#ffffff', width:1}, fillcolor:'rgba(0,0,0,0)'});
shapes.push({type:'rect', xref:'paper', yref:'paper', layer:'above', x0:1.5/plotW, x1:(plotW-0.5)/plotW,
  y0:py(plotH-0.5), y1:py(macdTopPx), line:{color:'#ffffff', width:1}, fillcolor:'rgba(0,0,0,0)'});

// ---- text ----
const txtFont = {family:'Liberation Sans, Arial, sans-serif', size:10, color:'#ffffff'};
const annotations = [];
annotations.push({xref:'paper', yref:'paper', x:0.0035, y:1, xanchor:'left', yanchor:'top', yshift:-3,
  showarrow:false, font:{...txtFont, size:10.5}, text:symbolName + '&nbsp;&nbsp;' + lastQuote.map(v => v.toFixed(5)).join(' ')});
annotations.push({xref:'paper', yref:'paper', x:0.003, y:py(macdTopPx), xanchor:'left', yanchor:'top', yshift:-1,
  showarrow:false, font:txtFont, text:'MACD(12,26,9) ' + macdLast.map(v => v.toFixed(6)).join(' ')});
dateLabels.forEach((t, k) => annotations.push({xref:'x', yref:'paper', x:k * dateLabelStep, y:0,
  xanchor:'left', yanchor:'top', yshift:-2, showarrow:false, font:{...txtFont, size:9.5}, text:t}));
fibPrices.forEach((p, i) => annotations.push({xref:'paper', yref:'y', x:1, y:p, xanchor:'right', yanchor:'bottom',
  xshift:-2, yshift:-2, showarrow:false, font:{...txtFont, color:'#ffff00'},
  text:fibLevels[i] + (fibShowPrice[i] ? ' ' + p.toFixed(5) : '')}));
// MACD scale labels, kept inside the right margin
macdTicks.forEach((v, i) => annotations.push({xref:'paper', yref:'y2', x:1, y:v, xanchor:'left', yanchor:'middle',
  xshift:2, showarrow:false, borderpad:0, font:{...txtFont, size:9}, text:macdTickText[i]}));
annotations.push({xref:'paper', yref:'y', x:1, y:markedLevel, xanchor:'left', yanchor:'middle', xshift:1, yshift:1,
  showarrow:false, bgcolor:'#ff00ff', borderpad:0, font:{...txtFont, size:9.5, color:'#000000'}, text:markedLevel.toFixed(5)});
annotations.push({xref:'paper', yref:'y', x:1, y:lastQuote[3], xanchor:'left', yanchor:'middle', xshift:1,
  showarrow:false, bgcolor:'#ffffff', borderpad:0, font:{...txtFont, size:9.5, color:'#000000'}, text:lastQuote[3].toFixed(5)});

const layout = {
  width:1916, height:972,
  margin:{l:0, r:1916 - plotW, t:0, b:972 - plotH, pad:0},
  paper_bgcolor:'#000000', plot_bgcolor:'#000000',
  showlegend:false, hovermode:false,
  font:txtFont,
  xaxis:{range:xRange, anchor:'y2', showgrid:false, zeroline:false, showline:false,
    tickvals:dateLabels.map((_, k) => k * dateLabelStep), showticklabels:false,
    ticks:'outside', ticklen:4, tickcolor:'#ffffff', tickwidth:1},
  yaxis:{domain:[py(mainBottomPx), 1], range:[1.154790, 1.244023], side:'right', anchor:'x',
    showgrid:false, zeroline:false, showline:false,
    tickvals:priceTicks, ticktext:priceTicks.map(v => v.toFixed(5)),
    ticks:'outside', ticklen:4, tickcolor:'#ffffff', tickfont:txtFont},
  yaxis2:{domain:[0, py(macdTopPx)], range:[-0.008251, 0.004817], side:'right', anchor:'x',
    showgrid:false, zeroline:false, showline:false, showticklabels:false,
    tickvals:macdTicks, ticks:'outside', ticklen:2, tickcolor:'#ffffff'},
  shapes, annotations
};

Plotly.newPlot('chart', traces, layout, {staticPlot:true, displayModeBar:false});
</script>
</body>
</html>
